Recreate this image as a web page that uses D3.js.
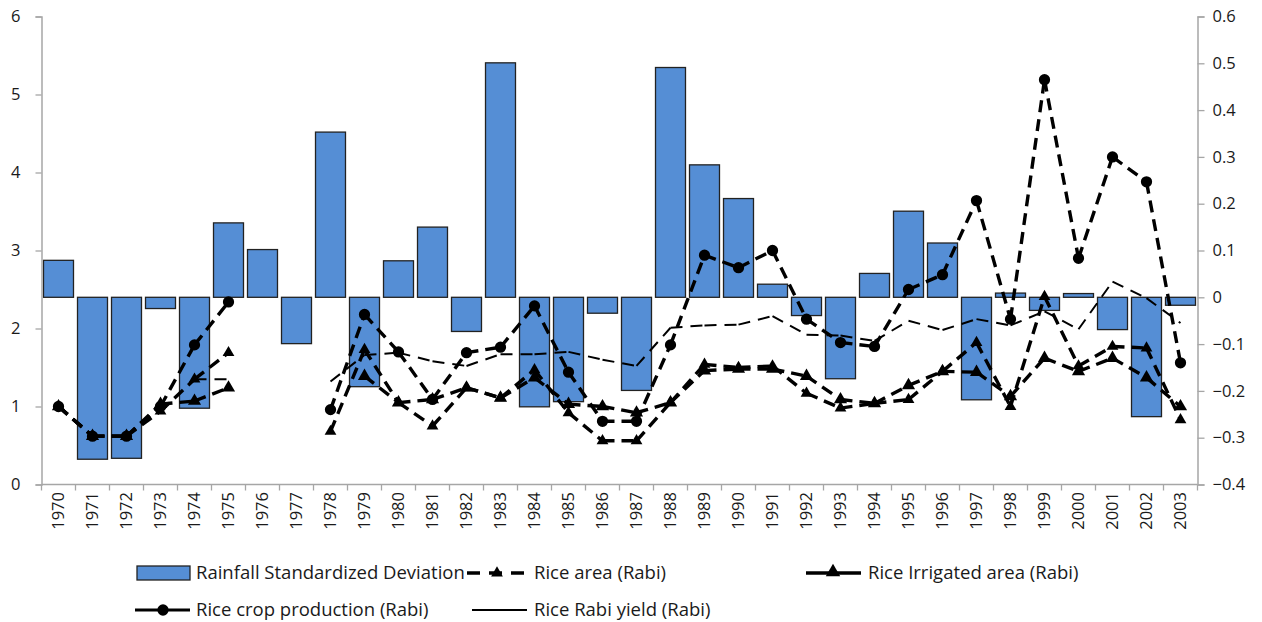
<!DOCTYPE html>
<html>
<head>
<meta charset="utf-8">
<script src="https://cdn.jsdelivr.net/npm/d3@7"></script>
<style>
  body { margin: 0; background: #fff; }
  svg text { font-family: "Open Sans", "Liberation Sans", sans-serif; fill: #1a1a1a; }
</style>
</head>
<body>
<svg id="chart" width="1262" height="622"></svg>
<script>
// Years on the category axis
const years = [1970,1971,1972,1973,1974,1975,1976,1977,1978,1979,1980,1981,1982,1983,1984,1985,1986,
  1987,1988,1989,1990,1991,1992,1993,1994,1995,1996,1997,1998,1999,2000,2001,2002,2003];

// Rainfall standardized deviation (right axis)
const rainfallDeviation = [0.079,-0.346,-0.344,-0.024,-0.237,0.159,0.102,-0.099,0.353,-0.191,0.078,0.150,
  -0.073,0.501,-0.234,-0.223,-0.034,-0.199,0.491,0.283,0.211,0.028,-0.039,-0.174,0.051,0.184,0.116,
  -0.219,0.009,-0.028,0.008,-0.069,-0.255,-0.017];

// Crop series (left axis); null = no data
const riceArea = [1.00,0.62,0.62,0.94,1.35,1.69,null,null,0.68,1.73,1.05,0.75,1.24,1.11,1.47,0.92,0.56,
  0.56,1.05,1.54,1.50,1.52,1.17,0.98,1.04,1.09,1.45,1.82,1.00,2.41,1.52,1.77,1.75,0.83];
const riceIrrigatedArea = [1.00,0.62,0.62,1.03,1.07,1.24,null,null,null,1.39,1.05,1.09,1.24,1.11,1.37,1.03,
  1.00,0.92,1.05,1.46,1.48,1.48,1.39,1.09,1.04,1.27,1.45,1.44,1.13,1.62,1.45,1.62,1.37,1.00];
const riceProduction = [1.00,0.62,0.62,1.00,1.79,2.34,null,null,0.96,2.18,1.70,1.09,1.69,1.76,2.29,1.44,
  0.81,0.81,1.79,2.94,2.78,3.00,2.12,1.82,1.77,2.50,2.69,3.64,2.12,5.19,2.90,4.20,3.88,1.56];
const riceYield = [null,null,null,null,1.35,1.35,null,null,1.32,1.66,1.69,1.58,1.52,1.67,1.67,1.70,1.60,
  1.52,2.01,2.04,2.05,2.16,1.92,1.91,1.84,2.10,1.98,2.12,2.04,2.22,1.99,2.60,2.39,2.07];

// Axis ticks
const leftTicks = [0,1,2,3,4,5,6];
const rightTicks = [-0.4,-0.3,-0.2,-0.1,0,0.1,0.2,0.3,0.4,0.5,0.6];

// Legend labels
const legendLabels = {
  rain: "Rainfall Standardized Deviation",
  area: "Rice area (Rabi)",
  irr: "Rice Irrigated area (Rabi)",
  prod: "Rice crop production (Rabi)",
  yield: "Rice Rabi yield (Rabi)"
};

const svg = d3.select("#chart");
const plot = { left: 41.5, right: 1197.5, top: 16.5, bottom: 484.5 };
const axisColor = "#a6a6a6";
const barFill = "#558ED5";
const barStroke = "#222";
const fontSize = 16.5;
const legendFontSize = 18.5;
const fontFamily = "'Open Sans', 'Liberation Sans', sans-serif";

const x = d3.scaleBand().domain(years).range([plot.left, plot.right])
  .paddingInner(0.118).paddingOuter(0.059);
const yL = d3.scaleLinear().domain([0, 6]).range([plot.bottom, plot.top]);
const yR = d3.scaleLinear().domain([-0.4, 0.6]).range([plot.bottom, plot.top]);
const cx = yr => x(yr) + x.bandwidth() / 2;

// Bars on the secondary (right) axis, measured from zero
svg.append("g").selectAll("rect").data(years.map((yr, i) => ({ yr, v: rainfallDeviation[i] })))
  .join("rect")
  .attr("x", d => x(d.yr))
  .attr("width", x.bandwidth())
  .attr("y", d => yR(Math.max(0, d.v)))
  .attr("height", d => Math.abs(yR(d.v) - yR(0)))
  .attr("fill", barFill)
  .attr("stroke", barStroke)
  .attr("stroke-width", 1.3);

// Left axis
const gL = svg.append("g").attr("transform", `translate(${plot.left},0)`)
  .call(d3.axisLeft(yL).tickValues(leftTicks).tickSize(6).tickPadding(15).tickFormat(d3.format("d")));
// Right axis
const gR = svg.append("g").attr("transform", `translate(${plot.right},0)`)
  .call(d3.axisRight(yR).tickValues(rightTicks).tickSize(7).tickPadding(8)
    .tickFormat(v => Math.abs(v) < 1e-9 ? "0" : d3.format(".1f")(v)));
// Category axis
const gB = svg.append("g").attr("transform", `translate(0,${plot.bottom})`)
  .call(d3.axisBottom(x).tickSize(0).tickPadding(0));
gB.selectAll(".tick text")
  .attr("transform", "rotate(-90)")
  .attr("x", -7.5).attr("y", 0).attr("dy", "0.36em")
  .attr("text-anchor", "end");
// Category boundary ticks
const step = x.step();
const edges = years.map(yr => x(yr) - step * x.paddingInner() / 2).concat([plot.right]);
gB.append("g").selectAll("line").data(edges).join("line")
  .attr("x1", d => d).attr("x2", d => d).attr("y1", 0).attr("y2", 6)
  .attr("stroke", axisColor).attr("stroke-width", 1.3);

[gL, gR, gB].forEach(g => {
  g.select(".domain").attr("stroke", axisColor).attr("stroke-width", 1.5);
  g.selectAll(".tick line").attr("stroke", axisColor).attr("stroke-width", 1.3);
  g.selectAll(".tick text").attr("font-size", fontSize).attr("fill", "#1a1a1a")
    .style("font-family", fontFamily);
});
gB.select(".domain").attr("d", `M${plot.left},0H${plot.right}`);

// Series with dashed segments; each segment restarts its dash pattern at the point
const seriesDefs = [
  { values: riceArea, width: 3.4, dash: "12,7", marker: d3.symbolTriangle, size: 60 },
  { values: riceIrrigatedArea, width: 3.4, dash: "12,7", marker: d3.symbolTriangle, size: 75 },
  { values: riceProduction, width: 3.4, dash: "12,7", marker: d3.symbolCircle, size: 100 },
  { values: riceYield, width: 2, dash: "12,8", marker: null, size: 0 }
];
const segLine = d3.line().x(d => cx(d.yr)).y(d => yL(d.v));

seriesDefs.forEach(s => {
  const pts = years.map((yr, i) => ({ yr, v: s.values[i] }));
  const segs = [];
  for (let i = 0; i < pts.length - 1; i++) {
    if (pts[i].v != null && pts[i + 1].v != null) segs.push([pts[i], pts[i + 1]]);
  }
  const g = svg.append("g");
  g.selectAll("path.seg").data(segs).join("path")
    .attr("class", "seg")
    .attr("d", segLine)
    .attr("fill", "none")
    .attr("stroke", "#000")
    .attr("stroke-width", s.width)
    .attr("stroke-dasharray", s.dash);
  if (s.marker) {
    g.selectAll("path.mk").data(pts.filter(p => p.v != null)).join("path")
      .attr("class", "mk")
      .attr("d", d3.symbol(s.marker, s.size))
      .attr("transform", d => `translate(${cx(d.yr)},${yL(d.v)})`)
      .attr("fill", "#000");
  }
});

// Legend
const lg = svg.append("g").attr("font-size", legendFontSize);
const row1 = 573, row2 = 610;
lg.append("rect").attr("x", 137).attr("y", row1 - 7).attr("width", 53).attr("height", 14)
  .attr("fill", barFill).attr("stroke", barStroke).attr("stroke-width", 1.3);
lg.append("text").attr("x", 196).attr("y", row1).attr("dy", "0.35em").text(legendLabels.rain);

lg.append("line").attr("x1", 467).attr("x2", 527).attr("y1", row1).attr("y2", row1)
  .attr("stroke", "#000").attr("stroke-width", 3.4).attr("stroke-dasharray", "13,9");
lg.append("path").attr("d", d3.symbol(d3.symbolTriangle, 60))
  .attr("transform", `translate(497,${row1})`);
lg.append("text").attr("x", 534).attr("y", row1).attr("dy", "0.35em").text(legendLabels.area);

lg.append("line").attr("x1", 806).attr("x2", 861).attr("y1", row1).attr("y2", row1)
  .attr("stroke", "#000").attr("stroke-width", 3.4);
lg.append("path").attr("d", d3.symbol(d3.symbolTriangle, 90))
  .attr("transform", `translate(833,${row1 - 1})`);
lg.append("text").attr("x", 868).attr("y", row1).attr("dy", "0.35em").text(legendLabels.irr);

lg.append("line").attr("x1", 135).attr("x2", 190).attr("y1", row2).attr("y2", row2)
  .attr("stroke", "#000").attr("stroke-width", 3.2);
lg.append("path").attr("d", d3.symbol(d3.symbolCircle, 100))
  .attr("transform", `translate(163,${row2})`);
lg.append("text").attr("x", 196).attr("y", row2).attr("dy", "0.35em").text(legendLabels.prod);

lg.append("line").attr("x1", 472).attr("x2", 527).attr("y1", row2).attr("y2", row2)
  .attr("stroke", "#000").attr("stroke-width", 1.8);
lg.append("text").attr("x", 534).attr("y", row2).attr("dy", "0.35em").text(legendLabels.yield);
</script>
</body>
</html>
